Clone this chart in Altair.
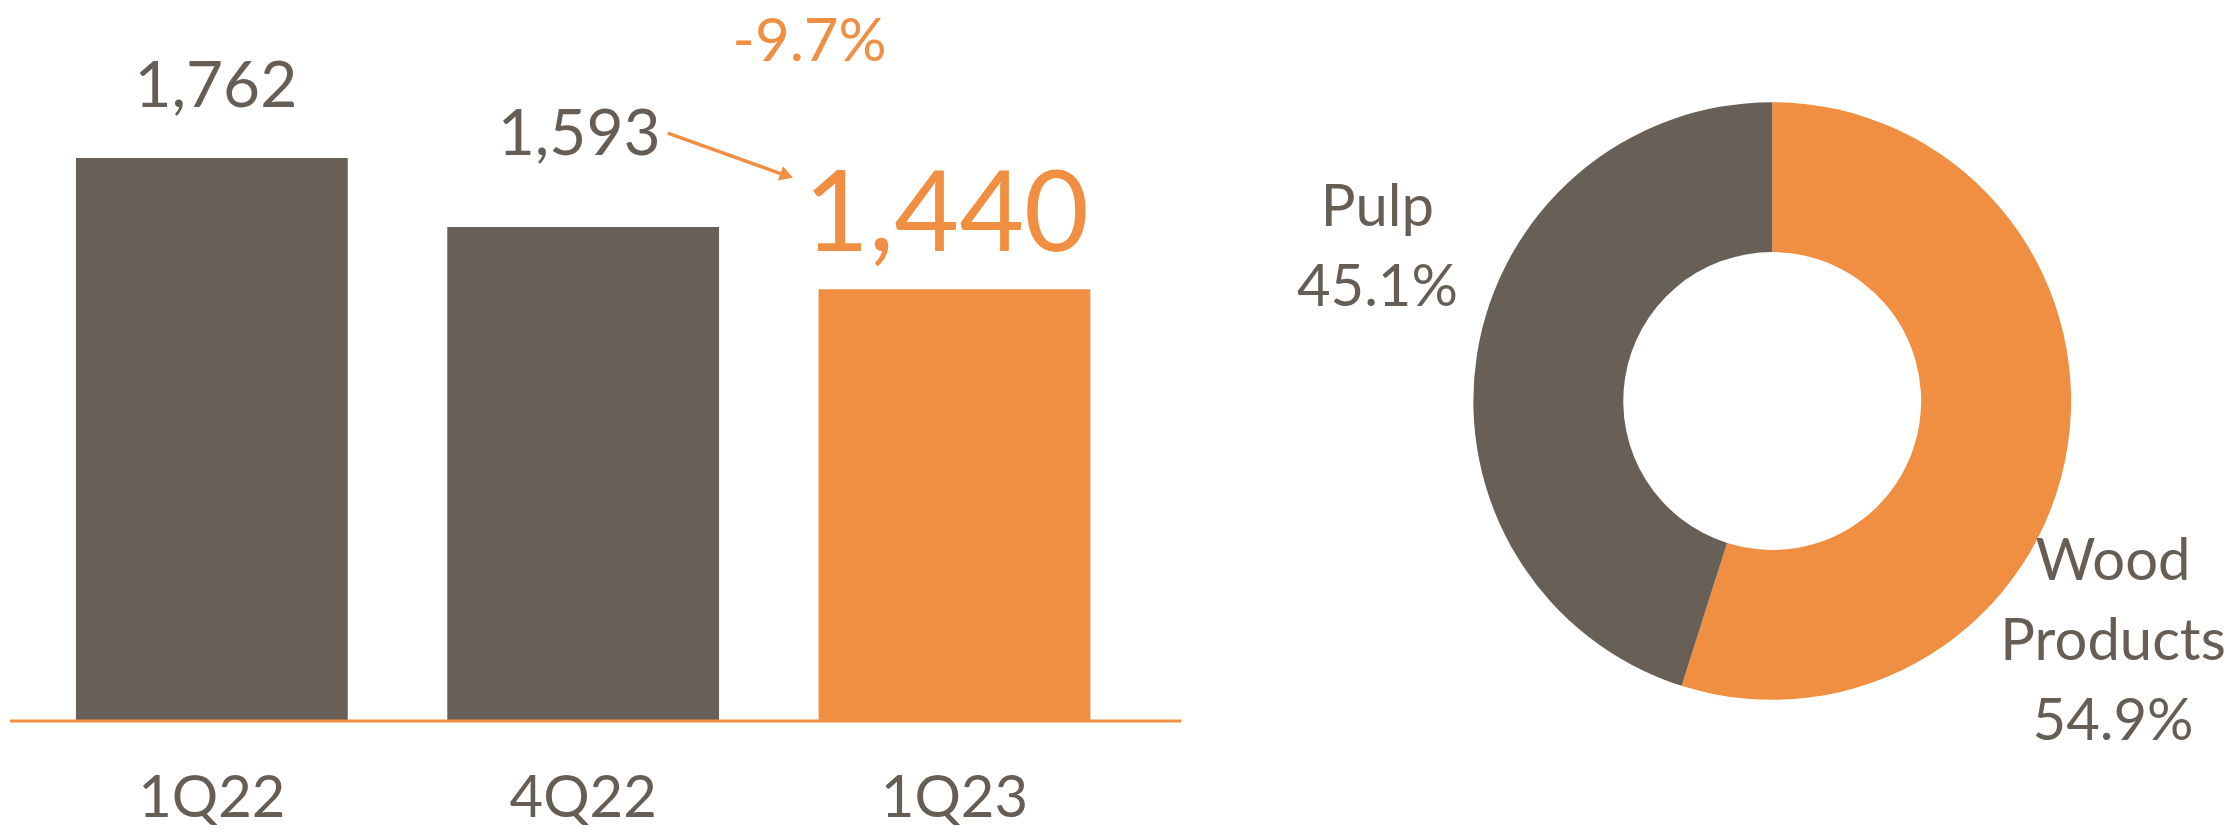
import altair as alt
import pandas as pd

# ---- data ----
quarters = ["1Q22", "4Q22", "1Q23"]
revenue = [1762, 1593, 1440]
value_labels = ["1,762", "1,593", "1,440"]
bar_colors = ["#686057", "#686057", "#F08F42"]
change_label = "-9.7%"

axis_base = 380      # value at which the bars start (truncated axis)
axis_bottom = 123
axis_top = 2130

segments = ["Wood Products", "Pulp"]
shares = [54.9, 45.1]
segment_order = [0, 1]
segment_colors = ["#F08F42", "#686057"]
segment_labels = ["Wood\nProducts\n54.9%", "Pulp\n45.1%"]

GRAY = "#665E55"
ORANGE = "#F08F42"
FONT = "Lato"

bars_df = pd.DataFrame({"q": quarters, "v": revenue, "label": value_labels,
                        "base": [axis_base] * len(quarters)})
donut_df = pd.DataFrame({"seg": segments, "share": shares, "idx": segment_order,
                         "label": segment_labels})

W1, H = 1172, 818
W2 = 1030

xscale = alt.Scale(domain=quarters, paddingInner=0.268, paddingOuter=0.2115, align=0.42)
yscale = alt.Scale(domain=[axis_bottom, axis_top], nice=False, zero=False)
X = alt.X("q:N", sort=quarters, scale=xscale, axis=None)

base = alt.Chart(bars_df)

bars = base.mark_bar().encode(
    x=X,
    y=alt.Y("v:Q", scale=yscale, axis=None),
    y2="base:Q",
    color=alt.Color("q:N", scale=alt.Scale(domain=quarters, range=bar_colors), legend=None),
)

baseline = base.transform_filter(alt.datum.q == quarters[0]).mark_rule(
    color=ORANGE, strokeWidth=3
).encode(y=alt.Y("base:Q", scale=yscale, axis=None))

cat_labels = base.mark_text(font=FONT, fontSize=58, color=GRAY, baseline="alphabetic",
                            dy=96).encode(
    x=X,
    y=alt.Y("base:Q", scale=yscale, axis=None),
    text="q:N",
)

label_styles = [
    dict(fontSize=64, color=GRAY, dy=-51, dx=4),
    dict(fontSize=64, color=GRAY, dy=-72, dx=-4),
    dict(fontSize=112, color=ORANGE, dy=-38, dx=-8),
]
value_text = []
for q, st in zip(quarters, label_styles):
    value_text.append(
        base.transform_filter(alt.datum.q == q).mark_text(
            font=FONT, baseline="alphabetic", **st
        ).encode(
            x=X,
            y=alt.Y("v:Q", scale=yscale, axis=None),
            text="label:N",
        )
    )

# annotation: change arrow and percentage (4Q22 -> 1Q23)
ann = base.transform_filter(alt.datum.q == quarters[1])
change_text = ann.mark_text(font=FONT, fontSize=60, color=ORANGE, baseline="alphabetic",
                            text=change_label).encode(
    x=alt.value(800), y=alt.value(53)
)
arrow_line = ann.mark_rule(color=ORANGE, strokeWidth=3.5).encode(
    x=alt.value(658), y=alt.value(125), x2=alt.value(775), y2=alt.value(167)
)
arrow_head = ann.mark_point(shape="triangle-right", filled=True, color=ORANGE, size=230,
                            angle=19.6, opacity=1).encode(
    x=alt.value(777), y=alt.value(167.5)
)

left = alt.layer(bars, baseline, cat_labels, *value_text, change_text, arrow_line, arrow_head
                 ).properties(width=W1, height=H)

dbase = alt.Chart(donut_df)
donut = dbase.mark_arc(innerRadius=149, outerRadius=299).encode(
    theta=alt.Theta("share:Q", stack=True),
    order=alt.Order("idx:Q"),
    color=alt.Color("seg:N", scale=alt.Scale(domain=segments, range=segment_colors), legend=None),
    x=alt.value(591), y=alt.value(393),
)
wood_lbl = dbase.transform_filter(alt.datum.idx == 0).mark_text(
    font=FONT, fontSize=58, color=GRAY, baseline="alphabetic", align="center",
    lineBreak="\n", lineHeight=80
).encode(x=alt.value(932), y=alt.value(572), text="label:N")
pulp_lbl = dbase.transform_filter(alt.datum.idx == 1).mark_text(
    font=FONT, fontSize=58, color=GRAY, baseline="alphabetic", align="center",
    lineBreak="\n", lineHeight=80
).encode(x=alt.value(196), y=alt.value(218), text="label:N")

right = alt.layer(donut, wood_lbl, pulp_lbl).properties(width=W2, height=H)

chart = alt.hconcat(left, right, spacing=0, bounds="flush").resolve_scale(
    color="independent"
).configure_view(stroke=None).properties(padding=0)

chart.save("out.html", embed_options={"renderer": "svg", "actions": False})
